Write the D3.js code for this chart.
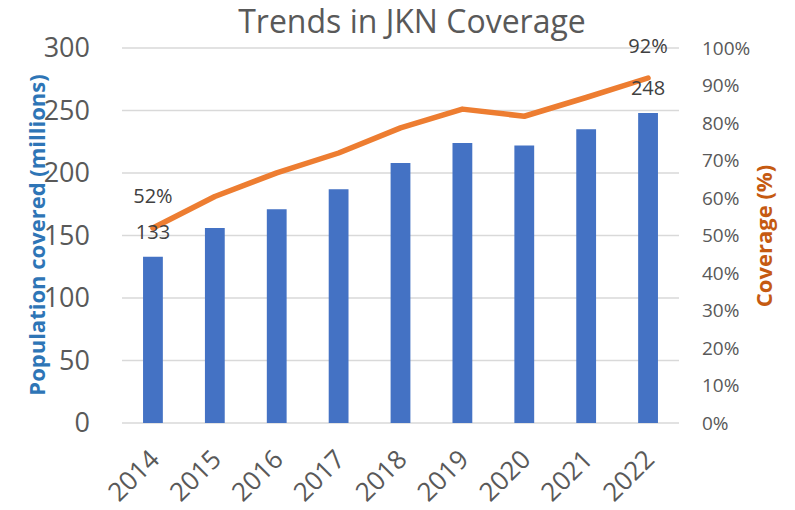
<html>
  <head>
    <script src="https://d3js.org/d3.v7.min.js"></script>
    <style>
      body { margin: 0; background: #fff; }
      text { font-family: "Open Sans", sans-serif; }
    </style>
  </head>
  <body>
    <div id="chart"></div>
    <script>
      // values
      const years = ["2014", "2015", "2016", "2017", "2018", "2019", "2020", "2021", "2022"];
      const population = [133, 156, 171, 187, 208, 224, 222, 235, 248];
      const coverage = [52, 60.4, 66.7, 72, 78.7, 83.7, 81.8, 86.8, 92];
      const leftTicks = [0, 50, 100, 150, 200, 250, 300];
      const rightTicks = [0, 10, 20, 30, 40, 50, 60, 70, 80, 90, 100];
      const labelled = [0, 8]; // first and last point get data labels

      const width = 795;
      const height = 510;
      const margin = ({top: 48, right: 116, bottom: 87, left: 122});

      const svg = d3.create('svg')
        .attr('width', width)
        .attr('height', height);

      const x = d3.scaleBand()
        .domain(years)
        .range([margin.left, width - margin.right])
        .paddingInner(0.68)
        .paddingOuter(0.34);

      const yLeft = d3.scaleLinear()
        .domain([0, 300])
        .range([height - margin.bottom, margin.top]);

      const yRight = d3.scaleLinear()
        .domain([0, 100])
        .range([height - margin.bottom, margin.top]);

      // gridlines
      svg.append('g')
        .selectAll('line')
        .data(leftTicks)
        .join('line')
        .attr('x1', margin.left)
        .attr('x2', width - margin.right)
        .attr('y1', d => yLeft(d))
        .attr('y2', d => yLeft(d))
        .attr('stroke', '#d9d9d9')
        .attr('stroke-width', 1.5);

      // bars
      svg.append('g')
        .selectAll('rect')
        .data(population)
        .join('rect')
        .attr('x', (d, i) => x(years[i]))
        .attr('width', x.bandwidth())
        .attr('y', d => yLeft(d))
        .attr('height', d => yLeft(0) - yLeft(d))
        .attr('fill', '#4472c4');

      // coverage line
      const line = d3.line()
        .x((d, i) => x(years[i]) + x.bandwidth() / 2)
        .y(d => yRight(d));

      svg.append('path')
        .datum(coverage)
        .attr('d', line)
        .attr('fill', 'none')
        .attr('stroke', '#ed7d31')
        .attr('stroke-width', 5.5)
        .attr('stroke-linejoin', 'round')
        .attr('stroke-linecap', 'round');

      // data labels
      const labels = svg.append('g')
        .attr('font-size', 20)
        .attr('fill', '#404040')
        .attr('text-anchor', 'middle');

      labelled.forEach(i => {
        const cx = x(years[i]) + x.bandwidth() / 2;
        labels.append('text')
          .attr('x', cx)
          .attr('y', yRight(coverage[i]) - 25)
          .text(Math.round(coverage[i]) + '%');
        labels.append('text')
          .attr('x', cx)
          .attr('y', yLeft(population[i]) - 18)
          .text(population[i]);
      });

      // left axis
      svg.append('g')
        .attr('transform', `translate(${margin.left - 32}, 0)`)
        .call(d3.axisLeft(yLeft).tickValues(leftTicks).tickSize(0).tickPadding(0))
        .call(g => g.select('.domain').remove())
        .call(g => g.selectAll('text')
          .attr('font-family', '"Open Sans", sans-serif')
          .attr('font-size', 27)
          .attr('fill', '#595959'));

      // right axis
      svg.append('g')
        .attr('transform', `translate(${width - margin.right + 23}, 0)`)
        .call(d3.axisRight(yRight).tickValues(rightTicks).tickFormat(d => d + '%').tickSize(0).tickPadding(0))
        .call(g => g.select('.domain').remove())
        .call(g => g.selectAll('text')
          .attr('font-family', '"Open Sans", sans-serif')
          .attr('font-size', 19)
          .attr('fill', '#595959'));

      // x axis, rotated labels
      svg.append('g')
        .attr('transform', `translate(0, ${height - margin.bottom})`)
        .call(d3.axisBottom(x).tickSize(0).tickPadding(0))
        .call(g => g.select('.domain').remove())
        .call(g => g.selectAll('text')
          .attr('font-family', '"Open Sans", sans-serif')
          .attr('font-size', 26)
          .attr('fill', '#595959')
          .attr('text-anchor', 'end')
          .attr('dy', 0)
          .attr('transform', 'translate(8, 38) rotate(-45)'));

      // title
      svg.append('text')
        .attr('x', 412)
        .attr('y', 33)
        .attr('text-anchor', 'middle')
        .attr('font-size', 32)
        .attr('fill', '#595959')
        .text('Trends in JKN Coverage');

      // axis titles
      svg.append('text')
        .attr('transform', `translate(45, 235) rotate(-90)`)
        .attr('text-anchor', 'middle')
        .attr('font-size', 22)
        .attr('font-weight', 'bold')
        .attr('fill', '#2e75b6')
        .text('Population covered (millions)');

      svg.append('text')
        .attr('transform', `translate(772, 236) rotate(-90)`)
        .attr('text-anchor', 'middle')
        .attr('font-size', 22)
        .attr('font-weight', 'bold')
        .attr('fill', '#c55a11')
        .text('Coverage (%)');

      document.getElementById('chart').appendChild(svg.node());
    </script>
  </body>
</html>
